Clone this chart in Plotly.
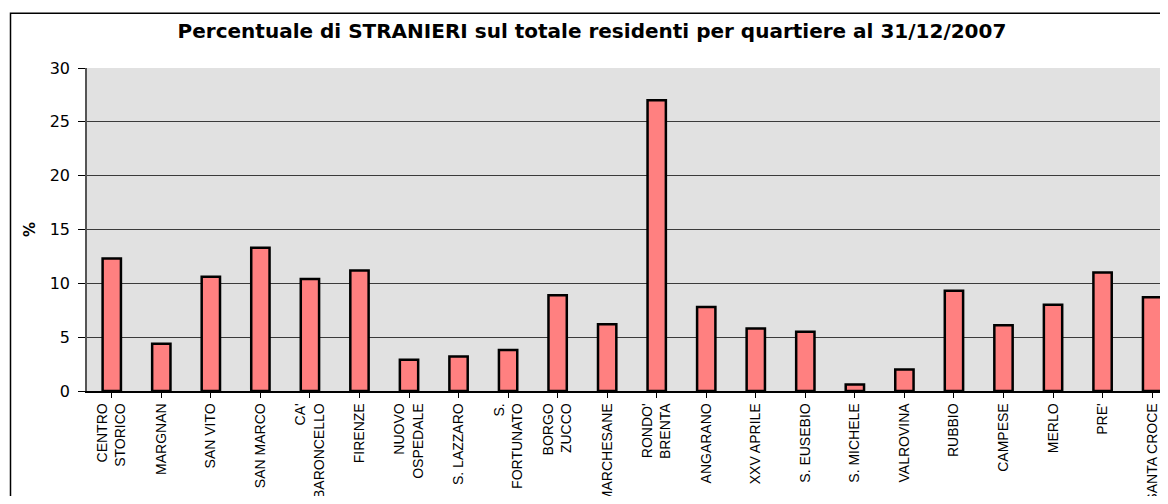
import plotly.graph_objects as go

categories = [
    "CENTRO<br>STORICO", "MARGNAN", "SAN VITO", "SAN MARCO", "CA'<br>BARONCELLO",
    "FIRENZE", "NUOVO<br>OSPEDALE", "S. LAZZARO", "S.<br>FORTUNATO", "BORGO<br>ZUCCO",
    "MARCHESANE", "RONDO'<br>BRENTA", "ANGARANO", "XXV APRILE", "S. EUSEBIO",
    "S. MICHELE", "VALROVINA", "RUBBIO", "CAMPESE", "MERLO", "PRE'", "SANTA CROCE",
]
values = [12.3, 4.4, 10.6, 13.3, 10.4, 11.2, 2.9, 3.2, 3.8, 8.9,
          6.2, 27.0, 7.8, 5.8, 5.5, 0.6, 2.0, 9.3, 6.1, 8.0, 11.0, 8.7]
y_ticks = [0, 5, 10, 15, 20, 25, 30]

title_text = "Percentuale di STRANIERI sul totale residenti per quartiere al 31/12/2007"

fig = go.Figure(
    go.Bar(
        x=list(range(len(categories))),
        y=values,
        marker=dict(color="#FF8080", line=dict(color="black", width=2.5)),
        width=0.37,
    )
)

# page body adds an 8px offset; size the figure so nothing overflows
W, H = 1152, 488
ml, mr, mt, mb = 79, 0, 60, 105
pw, ph = W - ml - mr, H - mt - mb
cat_px = 49.54

fig.update_layout(
    width=W, height=H,
    margin=dict(l=ml, r=mr, t=mt, b=mb, autoexpand=False),
    paper_bgcolor="white",
    plot_bgcolor="#E1E1E1",
    showlegend=False,
    title=dict(
        text="<b>" + title_text + "</b>",
        x=584 / W, xanchor="center", xref="container",
        y=1 - 23 / H, yanchor="middle", yref="container",
        font=dict(family="DejaVu Sans", size=20, color="black"),
    ),
    xaxis=dict(
        automargin=False,
        tickmode="array",
        tickvals=list(range(len(categories))),
        ticktext=categories,
        tickangle=-90,
        range=[-0.5, -0.5 + pw / cat_px],
        showgrid=False,
        showline=True, linecolor="black", linewidth=1.5,
        ticks="outside", ticklen=5, tickcolor="black",
        tickson="boundaries",
        tickfont=dict(family="Liberation Sans", size=14, color="black"),
        zeroline=False,
    ),
    yaxis=dict(
        automargin=False,
        range=[0, 30],
        tickvals=y_ticks,
        showgrid=True, gridcolor="#3a3a3a", gridwidth=1,
        showline=True, linecolor="#555555", linewidth=1.5,
        ticks="outside", ticklen=7, tickcolor="black",
        ticklabelstandoff=5,
        tickfont=dict(family="DejaVu Sans", size=16, color="black"),
        zeroline=False,
        title=dict(text="<b>%</b>", font=dict(family="DejaVu Sans", size=15, color="black"), standoff=10),
    ),
    shapes=[
        dict(
            type="rect", xref="paper", yref="paper",
            x0=(2.5 - ml) / pw, x1=1.2,
            y0=-0.6, y1=1 + (mt - 5.3) / ph,
            line=dict(color="black", width=1.5),
            fillcolor="rgba(0,0,0,0)", layer="below",
        )
    ],
)

fig.write_html("out.html")
